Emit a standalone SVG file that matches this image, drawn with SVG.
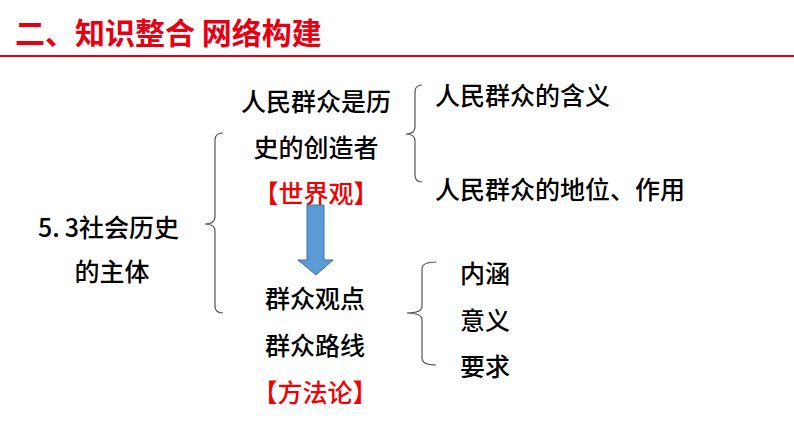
<svg xmlns="http://www.w3.org/2000/svg" width="794" height="447" viewBox="0 0 794 447">
<style>
.t{font-family:"Noto Sans CJK SC","Noto Sans",sans-serif;font-size:25px;font-weight:500;fill:#000}
.r{fill:#f00000}
.m{text-anchor:middle}
.title{font-family:"Noto Sans CJK SC","Noto Sans",sans-serif;font-size:30px;font-weight:bold;fill:#e60012}
.brace{fill:none;stroke:#555;stroke-width:1.2}
</style>
<rect width="794" height="447" fill="#fff"/>
<g id="header">
<text class="title" x="15" y="44">二、知识整合 网络构建</text>
<line x1="0" y1="56" x2="794" y2="56" stroke="#e60012" stroke-width="2"/>
</g>
<g id="root">
<text class="t" x="38" y="237">5.<tspan dx="5">3</tspan>社会历史</text>
<text class="t m" x="112" y="281">的主体</text>
</g>
<g id="worldview">
<text class="t m" x="316" y="111">人民群众是历</text>
<text class="t m" x="316" y="157">史的创造者</text>
<text class="t m r" x="316" y="203">【世界观】</text>
</g>
<g id="method">
<text class="t m" x="315" y="308">群众观点</text>
<text class="t m" x="315" y="355">群众路线</text>
<text class="t m r" x="315" y="402">【方法论】</text>
</g>
<g id="top-items">
<text class="t" x="435" y="105">人民群众的含义</text>
<text class="t" x="435" y="199">人民群众的地位、作用</text>
</g>
<g id="bottom-items">
<text class="t" x="460" y="283">内涵</text>
<text class="t" x="460" y="330">意义</text>
<text class="t" x="460" y="376">要求</text>
</g>
<g id="connectors">
<path class="brace" d="M223,133 Q215,133 215,140 L215,217 Q215,224 205,224 Q215,224 215,231 L215,306 Q215,313 223,313"/>
<path class="brace" d="M422,85 Q415,85 415,92 L415,127 Q415,134 406,134 Q415,134 415,141 L415,175 Q415,182 422,182"/>
<path class="brace" d="M436,262 Q422,262 422,269 L422,306 Q422,313 407,313 Q422,313 422,320 L422,358 Q422,365 436,365"/>
<polygon points="307,205 324,205 324,260 333,260 316,275 298,260 307,260" fill="#5b9bd5" stroke="#41719c" stroke-width="1"/>
</g>
</svg>
